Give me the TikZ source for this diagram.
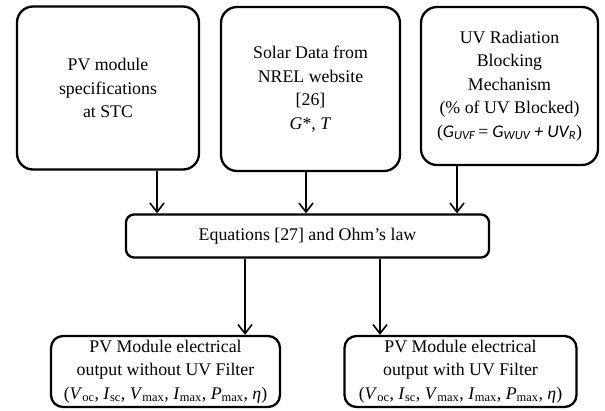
\documentclass[tikz,border=0pt]{standalone}
\usepackage{fontspec}
\setmainfont{Liberation Serif}
\newfontfamily\calfont{Carlito}
\usetikzlibrary{arrows.meta, positioning, calc}
\tikzstyle{inbox} = [rectangle, rounded corners=16pt, draw=black, line width=2.3pt, align=center, inner sep=0pt]
\tikzstyle{eqbox} = [rectangle, rounded corners=8pt, draw=black, line width=2.3pt, align=center, inner sep=0pt, minimum width=363pt, minimum height=43pt]
\tikzstyle{outbox} = [rectangle, rounded corners=12pt, draw=black, line width=2.3pt, align=center, inner sep=0pt, minimum width=229pt, minimum height=71pt]
\tikzstyle{arrow} = [line width=2.2pt, -{Straight Barb[length=9pt, width=14pt, line width=1.6pt]}]
\newcommand{\outvars}{(\textit{V}\textsubscript{oc}, \textit{I}\textsubscript{sc}, \textit{V}\textsubscript{max}, \textit{I}\textsubscript{max}, \textit{P}\textsubscript{max}, \textit{η})}

\begin{document}
\begin{tikzpicture}[x=1pt, y=1pt, font=\fontsize{17.8}{23.5}\selectfont]
    \useasboundingbox (0,0) rectangle (605,-410);
    \node (spec) [inbox, minimum width=182pt, minimum height=163pt] at (108,-88) {PV module\\ specifications\\ at STC};
    \node (solar) [inbox, minimum width=179pt, minimum height=164pt] at (310.5,-89) {Solar Data from\\ NREL website\\ {[}26{]}\\ \textit{G}*, \textit{T}};
    \node (uv) [inbox, minimum width=177pt, minimum height=158pt] at (509.5,-86) {UV Radiation\\ Blocking\\ Mechanism\\ (\% of UV Blocked)\\ ({\calfont\itshape G\textsubscript{UVF}\,}={\calfont\itshape\ G\textsubscript{WUV} + UV\textsubscript{R}})};
    \node (eq) [eqbox] at (307.5,-236) {Equations [27] and Ohm’s law};
    \node (nofilter) [outbox] at (165.5,-371.5) {PV Module electrical\\ output without UV Filter\\ \outvars};
    \node (filter) [outbox, minimum width=232pt] at (460.5,-371.5) {PV Module electrical\\ output with UV Filter\\ \outvars};

    \draw [arrow] ([xshift=49pt]spec.south) -- ([xshift=49pt]spec.south |- eq.north);
    \draw [arrow] ([xshift=-4.5pt]solar.south) -- ([xshift=-4.5pt]solar.south |- eq.north);
    \draw [arrow] ([xshift=-52.5pt]uv.south) -- ([xshift=-52.5pt]uv.south |- eq.north);
    \draw [arrow] ([xshift=-62.5pt]eq.south) -- ([xshift=-62.5pt]eq.south |- nofilter.north);
    \draw [arrow] ([xshift=72.5pt]eq.south) -- ([xshift=72.5pt]eq.south |- filter.north);
\end{tikzpicture}
\end{document}
